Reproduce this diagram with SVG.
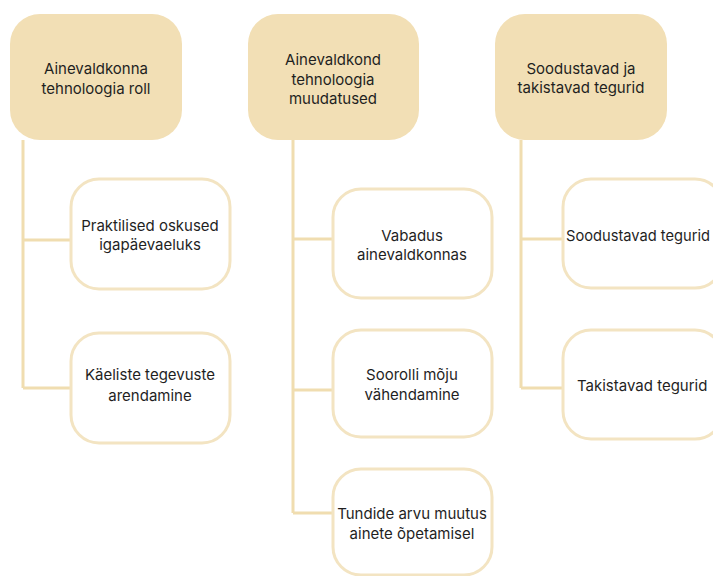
<svg xmlns="http://www.w3.org/2000/svg" width="713" height="576" viewBox="0 0 713 576">
<style>
.bg{fill:#ffffff}
.head{fill:#F2DFB5;stroke:none}
.child{fill:#ffffff;stroke:#F3E4C2;stroke-width:3}
.conn{stroke:#F0DDB0;stroke-width:3;fill:none}
text{font-family:Inter,"Open Sans","Liberation Sans",sans-serif;font-size:15px;fill:#1f1f1f;text-anchor:middle;dominant-baseline:central}
text.l{text-anchor:start}
</style>
<rect class="bg" x="0" y="0" width="713" height="576"/>
<g id="connectors">
<path class="conn" d="M23,140 V388 M23,240 H71 M23,388 H71"/>
<path class="conn" d="M293,140 V513 M293,239 H333 M293,390 H333 M293,513 H333"/>
<path class="conn" d="M521,140 V388 M521,239 H563 M521,388 H563"/>
</g>
<g id="h1"><rect class="head" x="10" y="14" width="172" height="126" rx="30"/><text x="96" y="68">Ainevaldkonna</text><text x="96" y="88">tehnoloogia roll</text></g>
<g id="h2"><rect class="head" x="248" y="14" width="171" height="126" rx="30"/><text x="333" y="59">Ainevaldkond</text><text x="333" y="79">tehnoloogia</text><text x="333" y="98">muudatused</text></g>
<g id="h3"><rect class="head" x="495" y="14" width="172" height="126" rx="30"/><text x="581" y="68">Soodustavad ja</text><text x="581" y="87">takistavad tegurid</text></g>
<g id="c1"><rect class="child" x="71" y="179" width="159" height="110" rx="28"/><text x="150" y="225">Praktilised oskused</text><text x="150" y="244">igapäevaeluks</text></g>
<g id="c2"><rect class="child" x="71" y="333" width="159" height="110" rx="28"/><text x="150" y="374">Käeliste tegevuste</text><text x="150" y="395">arendamine</text></g>
<g id="m1"><rect class="child" x="333" y="189" width="159" height="109" rx="28"/><text x="412" y="235">Vabadus</text><text x="412" y="254">ainevaldkonnas</text></g>
<g id="m2"><rect class="child" x="333" y="330" width="159" height="107" rx="28"/><text x="412" y="374">Soorolli mõju</text><text x="412" y="394">vähendamine</text></g>
<g id="m3"><rect class="child" x="333" y="469" width="159" height="106" rx="28"/><text x="412" y="513">Tundide arvu muutus</text><text x="412" y="533">ainete õpetamisel</text></g>
<g id="r1"><rect class="child" x="563" y="179" width="160" height="109" rx="28"/><text class="l" x="566" y="235" textLength="144" lengthAdjust="spacingAndGlyphs">Soodustavad tegurid</text></g>
<g id="r2"><rect class="child" x="563" y="330" width="160" height="109" rx="28"/><text class="l" x="577" y="385">Takistavad tegurid</text></g>
</svg>
